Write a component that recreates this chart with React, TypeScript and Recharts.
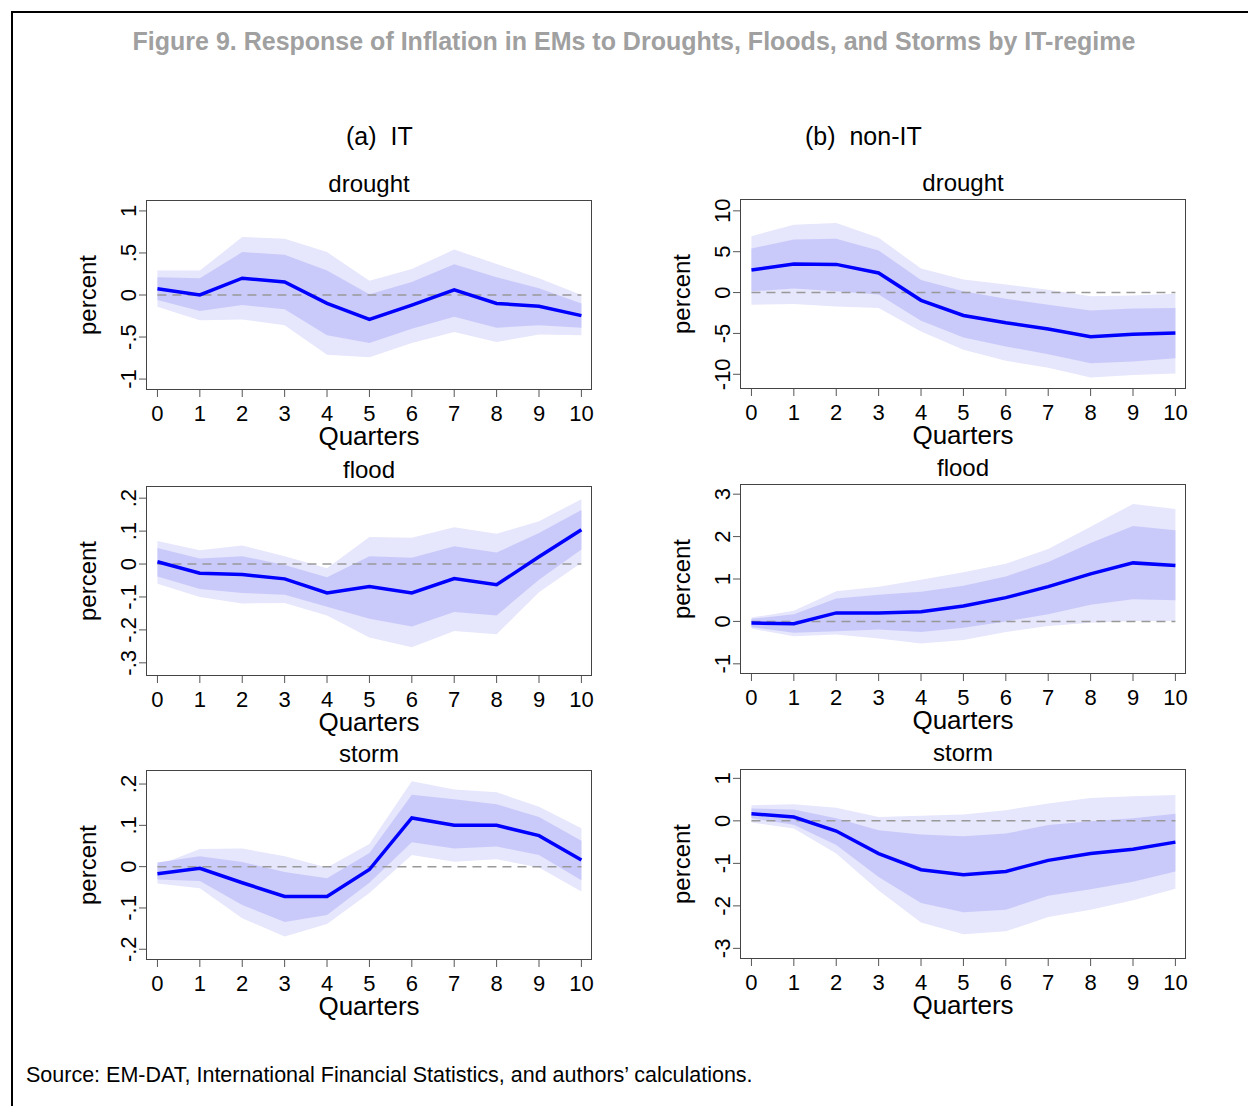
import { ComposedChart, Area, Line, XAxis, YAxis, ReferenceLine } from 'recharts';

const quarters = [0, 1, 2, 3, 4, 5, 6, 7, 8, 9, 10];

// (a) IT
const itDroughtMid = [0.075, 0, 0.2, 0.155, -0.1, -0.29, -0.12, 0.06, -0.1, -0.135, -0.245];
const itDroughtIn = [[-0.06, 0.21], [-0.19, 0.2], [-0.12, 0.51], [-0.17, 0.48], [-0.48, 0.29], [-0.57, 0.01], [-0.4, 0.155], [-0.26, 0.365], [-0.39, 0.21], [-0.36, 0.08], [-0.39, -0.1]];
const itDroughtOut = [[-0.14, 0.29], [-0.3, 0.29], [-0.29, 0.69], [-0.36, 0.67], [-0.71, 0.51], [-0.74, 0.17], [-0.57, 0.31], [-0.44, 0.54], [-0.56, 0.37], [-0.47, 0.2], [-0.48, 0]];

const itFloodMid = [0.007, -0.028, -0.032, -0.045, -0.088, -0.068, -0.088, -0.044, -0.063, 0.022, 0.104];
const itFloodIn = [[-0.038, 0.049], [-0.076, 0.017], [-0.088, 0.024], [-0.093, -0.003], [-0.13, -0.04], [-0.166, 0.024], [-0.19, 0.019], [-0.146, 0.054], [-0.156, 0.035], [-0.048, 0.094], [0.044, 0.164]];
const itFloodOut = [[-0.06, 0.07], [-0.1, 0.042], [-0.12, 0.056], [-0.118, 0.024], [-0.156, -0.013], [-0.223, 0.082], [-0.253, 0.08], [-0.203, 0.112], [-0.213, 0.092], [-0.086, 0.13], [0.004, 0.197]];

const itStormMid = [-0.017, -0.004, -0.039, -0.072, -0.072, -0.007, 0.118, 0.1, 0.1, 0.075, 0.016];
const itStormIn = [[-0.031, 0.01], [-0.035, 0.025], [-0.093, 0.011], [-0.134, -0.013], [-0.117, -0.028], [-0.039, 0.033], [0.059, 0.174], [0.044, 0.163], [0.049, 0.151], [0.028, 0.12], [-0.033, 0.063]];
const itStormOut = [[-0.041, 0.003], [-0.052, 0.043], [-0.125, 0.044], [-0.169, 0.025], [-0.139, -0.002], [-0.064, 0.055], [0.028, 0.207], [0.012, 0.187], [0.018, 0.18], [-0.002, 0.145], [-0.06, 0.093]];

// (b) non-IT
const nonDroughtMid = [2.75, 3.5, 3.45, 2.4, -0.95, -2.8, -3.7, -4.45, -5.4, -5.1, -4.95];
const nonDroughtIn = [[0.15, 5.4], [0.5, 6.5], [0.15, 6.6], [-0.25, 5.15], [-3.45, 1.55], [-5.5, 0.15], [-6.6, -0.75], [-7.55, -1.5], [-8.65, -2.2], [-8.45, -1.95], [-8.05, -1.9]];
const nonDroughtOut = [[-1.5, 6.9], [-1.4, 8.3], [-1.7, 8.5], [-1.9, 6.7], [-4.75, 2.95], [-7.0, 1.6], [-8.35, 1.0], [-9.2, 0.35], [-10.4, -0.45], [-10.1, -0.35], [-9.9, -0.15]];

const nonFloodMid = [-0.04, -0.055, 0.2, 0.2, 0.23, 0.365, 0.56, 0.82, 1.12, 1.38, 1.32];
const nonFloodIn = [[-0.13, 0.06], [-0.27, 0.17], [-0.23, 0.54], [-0.19, 0.63], [-0.25, 0.7], [-0.15, 0.84], [0, 1.06], [0.17, 1.4], [0.39, 1.85], [0.52, 2.25], [0.5, 2.15]];
const nonFloodOut = [[-0.17, 0.09], [-0.35, 0.25], [-0.31, 0.71], [-0.4, 0.82], [-0.52, 0.98], [-0.44, 1.16], [-0.25, 1.36], [-0.11, 1.71], [-0.03, 2.23], [0.01, 2.77], [0.01, 2.65]];

const nonStormMid = [0.17, 0.09, -0.24, -0.77, -1.15, -1.27, -1.19, -0.93, -0.77, -0.67, -0.5];
const nonStormIn = [[0.06, 0.29], [-0.09, 0.27], [-0.57, 0.06], [-1.32, -0.22], [-1.93, -0.32], [-2.15, -0.36], [-2.09, -0.3], [-1.76, -0.1], [-1.61, -0.01], [-1.43, 0.06], [-1.19, 0.17]];
const nonStormOut = [[-0.04, 0.37], [-0.18, 0.39], [-0.77, 0.31], [-1.64, 0.09], [-2.39, 0.12], [-2.67, 0.15], [-2.6, 0.25], [-2.26, 0.41], [-2.09, 0.54], [-1.87, 0.58], [-1.6, 0.61]];

const FONT = '"Liberation Sans", Arial, sans-serif';
const PLOT_W = 446;
const PLOT_H = 190;

type PanelProps = {
  left: number; top: number; title: string;
  mid: number[]; inner: number[][]; outer: number[][];
  yDomain: [number, number]; yTicks: number[]; yLabels: string[];
};

const Panel = ({ left, top, title, mid, inner, outer, yDomain, yTicks, yLabels }: PanelProps) => {
  const data = quarters.map((q, i) => ({ q, mid: mid[i], inner: inner[i], outer: outer[i] }));
  const YTick = (p: any) => {
    const idx = yTicks.indexOf(p.payload.value);
    return (
      <text x={p.x - 1} y={p.y} transform={`rotate(-90, ${p.x - 1}, ${p.y})`} textAnchor="middle"
        fontSize={22} fontFamily={FONT} fill="#000">{yLabels[idx]}</text>
    );
  };
  const XTick = (p: any) => (
    <text x={p.x} y={p.y + 22} textAnchor="middle" fontSize={22} fontFamily={FONT} fill="#000">{p.payload.value}</text>
  );
  return (
    <div style={{ position: 'absolute', left: left - 80, top: top - 10 }}>
      <div style={{ position: 'absolute', left: 80, width: PLOT_W, top: -18, textAlign: 'center', fontFamily: FONT, fontSize: 24, lineHeight: '24px' }}>{title}</div>
      <div style={{ position: 'absolute', left: 22, top: 10 + PLOT_H / 2, transform: 'translate(-50%, -50%) rotate(-90deg)', fontFamily: FONT, fontSize: 24 }}>percent</div>
      <ComposedChart width={80 + PLOT_W + 10} height={10 + PLOT_H + 60} data={data}
        margin={{ top: 10, right: 10, left: 30, bottom: 0 }}>
        <XAxis dataKey="q" type="number" domain={[-0.27, 10.25]} ticks={quarters} allowDataOverflow
          axisLine={false} tickSize={7} stroke="#555" tick={XTick} height={60}
          label={{ value: 'Quarters', position: 'insideBottom', offset: 5, fontSize: 26, fontFamily: FONT, fill: '#000' }} />
        <YAxis type="number" domain={yDomain} ticks={yTicks} allowDataOverflow width={50}
          axisLine={false} tickSize={7} stroke="#555" tick={YTick} />
        <Area dataKey="outer" type="linear" stroke="none" fill="#e6e6fd" fillOpacity={1} isAnimationActive={false} />
        <Area dataKey="inner" type="linear" stroke="none" fill="#cacafa" fillOpacity={1} isAnimationActive={false} />
        <ReferenceLine segment={[{ x: 0, y: 0 }, { x: 10, y: 0 }]} stroke="#999" strokeWidth={1.5} strokeDasharray="9 6" />
        <Line dataKey="mid" type="linear" stroke="#0000ff" strokeWidth={3.5} dot={false} isAnimationActive={false} />
      </ComposedChart>
      <div style={{ position: 'absolute', left: 80, top: 10, width: PLOT_W, height: PLOT_H, border: '1px solid #444', boxSizing: 'border-box', pointerEvents: 'none' }} />
    </div>
  );
};

export default function App() {
  return (
    <div style={{ position: 'absolute', left: 0, top: 0, width: 1248, height: 1106, background: '#fff', overflow: 'hidden', fontFamily: FONT }}>
      <div style={{ position: 'absolute', left: 11, top: 11, width: 1300, height: 1200, borderTop: '2px solid #000', borderLeft: '2px solid #000' }} />
      <div style={{ position: 'absolute', left: 0, width: 1268, top: 27, textAlign: 'center', fontWeight: 'bold', fontSize: 25, color: '#a0a0a0', whiteSpace: 'nowrap' }}>
        Figure 9. Response of Inflation in EMs to Droughts, Floods, and Storms by IT-regime
      </div>
      <div style={{ position: 'absolute', left: 346, top: 122, fontSize: 25, whiteSpace: 'pre' }}>(a)  IT</div>
      <div style={{ position: 'absolute', left: 805, top: 122, fontSize: 25, whiteSpace: 'pre' }}>(b)  non-IT</div>

      <Panel left={146} top={200} title="drought" mid={itDroughtMid} inner={itDroughtIn} outer={itDroughtOut}
        yDomain={[-1.13, 1.13]} yTicks={[-1, -0.5, 0, 0.5, 1]} yLabels={['-1', '-.5', '0', '.5', '1']} />
      <Panel left={146} top={486} title="flood" mid={itFloodMid} inner={itFloodIn} outer={itFloodOut}
        yDomain={[-0.34, 0.237]} yTicks={[-0.3, -0.2, -0.1, 0, 0.1, 0.2]} yLabels={['-.3', '-.2', '-.1', '0', '.1', '.2']} />
      <Panel left={146} top={770} title="storm" mid={itStormMid} inner={itStormIn} outer={itStormOut}
        yDomain={[-0.226, 0.234]} yTicks={[-0.2, -0.1, 0, 0.1, 0.2]} yLabels={['-.2', '-.1', '0', '.1', '.2']} />

      <Panel left={740} top={199} title="drought" mid={nonDroughtMid} inner={nonDroughtIn} outer={nonDroughtOut}
        yDomain={[-11.8, 11.45]} yTicks={[-10, -5, 0, 5, 10]} yLabels={['-10', '-5', '0', '5', '10']} />
      <Panel left={740} top={484} title="flood" mid={nonFloodMid} inner={nonFloodIn} outer={nonFloodOut}
        yDomain={[-1.24, 3.24]} yTicks={[-1, 0, 1, 2, 3]} yLabels={['-1', '0', '1', '2', '3']} />
      <Panel left={740} top={769} title="storm" mid={nonStormMid} inner={nonStormIn} outer={nonStormOut}
        yDomain={[-3.25, 1.22]} yTicks={[-3, -2, -1, 0, 1]} yLabels={['-3', '-2', '-1', '0', '1']} />

      <div style={{ position: 'absolute', left: 26, top: 1063, fontSize: 21.5 }}>
        Source: EM-DAT, International Financial Statistics, and authors’ calculations.
      </div>
    </div>
  );
}
